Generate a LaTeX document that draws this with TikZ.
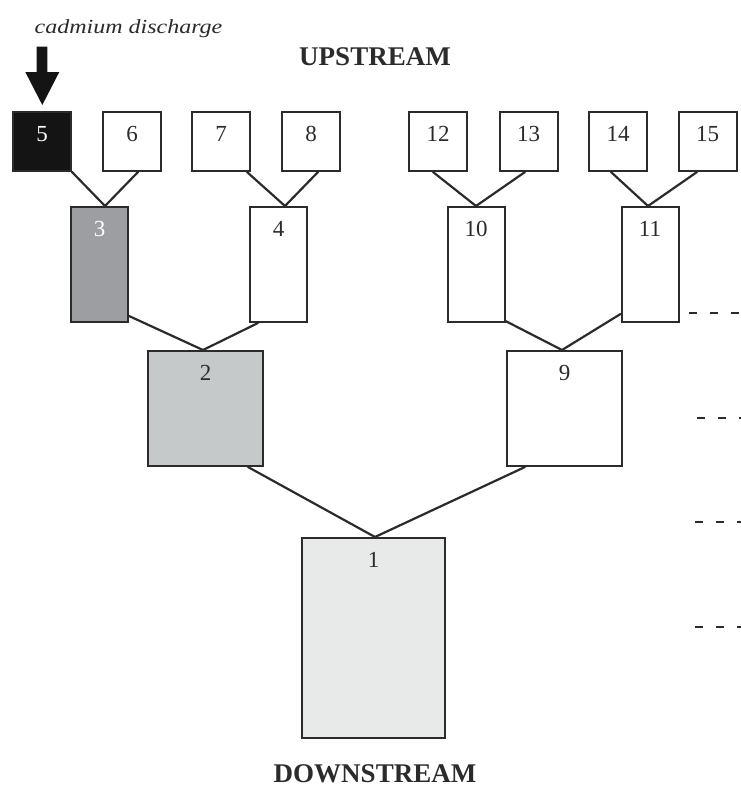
\documentclass[tikz,border=0pt]{standalone}
\usepackage{fontspec}
\setmainfont{Liberation Serif}
\usetikzlibrary{calc}
\definecolor{ink}{HTML}{2B2B2B}
\definecolor{cdblack}{HTML}{141414}
\definecolor{cdgray}{HTML}{9C9EA1}
\definecolor{cdlight}{HTML}{C6C9CA}
\definecolor{cdpale}{HTML}{E8EAEA}
\tikzset{
  reach/.style={draw=ink, line width=2pt, fill=white, inner sep=0pt, minimum width=#1},
  leaf/.style={reach=58pt, minimum height=59pt},
  mid/.style={reach=57pt, minimum height=115pt},
  big/.style={reach=115pt, minimum height=115pt},
  mouth/.style={reach=143pt, minimum height=200pt},
  num/.style={anchor=base, font=\fontsize{23}{23}\selectfont, text=ink, inner sep=0pt},
  link/.style={draw=ink, line width=2.2pt, line cap=round},
  level/.style={draw=ink, line width=1.9pt, dash pattern=on 8pt off 13pt},
  title/.style={font=\bfseries\fontsize{27}{27}\selectfont, text=ink, anchor=base, inner sep=0pt}
}
\begin{document}
\begin{tikzpicture}[x=1pt,y=-1pt]
\useasboundingbox (0,0) rectangle (741,793);

% headwater reaches
\node[leaf, fill=cdblack] (b5) at (42,141.5) {};
\node[leaf] (b6) at (132,141.5) {};
\node[leaf] (b7) at (221,141.5) {};
\node[leaf] (b8) at (311,141.5) {};
\node[leaf] (b12) at (438,141.5) {};
\node[leaf] (b13) at (528.5,141.5) {};
\node[leaf] (b14) at (618,141.5) {};
\node[leaf] (b15) at (707.5,141.5) {};

% second-order reaches
\node[mid, fill=cdgray] (b3) at (99.5,264.5) {};
\node[mid] (b4) at (278.5,264.5) {};
\node[mid] (b10) at (476,264.5) {};
\node[mid] (b11) at (650,264.5) {};

% third-order reaches
\node[big, fill=cdlight] (b2) at (205.5,408.5) {};
\node[big] (b9) at (564.5,408.5) {};

% outlet reach
\node[mouth, fill=cdpale] (b1) at (373.5,638) {};

% reach numbers
\foreach \b in {6,7,8,12,13,14,15,4,10,11,2,9,1}
  \node[num] (n\b) at ($(b\b.north)+(0,30)$) {\b};
\node[num, text=white] (n5) at ($(b5.north)+(0,30)$) {5};
\node[num, text=white] (n3) at ($(b3.north)+(0,30)$) {3};

% confluences
\draw[link] (b5.south east) -- ($(b3.north)+(5.5,0)$);
\draw[link] ($(b6.south)+(6,0)$) -- ($(b3.north)+(5.5,0)$);
\draw[link] ($(b7.south)+(26,0)$) -- ($(b4.north)+(6.5,0)$);
\draw[link] ($(b8.south)+(7,0)$) -- ($(b4.north)+(6.5,0)$);
\draw[link] ($(b12.south)+(-5,0)$) -- (b10.north);
\draw[link] ($(b13.south)+(-3.5,0)$) -- (b10.north);
\draw[link] ($(b14.south)+(-7,0)$) -- ($(b11.north)+(-2,0)$);
\draw[link] ($(b15.south)+(-10.5,0)$) -- ($(b11.north)+(-2,0)$);
\draw[link] ($(b3.south east)+(0,-7)$) -- ($(b2.north)+(-2.5,0)$);
\draw[link] ($(b4.south)+(-20.5,0)$) -- ($(b2.north)+(-2.5,0)$);
\draw[link] ($(b10.south east)+(0,-2)$) -- ($(b9.north)+(-2.5,0)$);
\draw[link] ($(b11.south west)+(0,-9)$) -- ($(b9.north)+(-2.5,0)$);
\draw[link] ($(b2.south)+(42.5,0)$) -- ($(b1.north)+(1.5,0)$);
\draw[link] ($(b9.south)+(-39.5,0)$) -- ($(b1.north)+(1.5,0)$);

% sampling levels
\coordinate (l1) at (689,313);  \coordinate (r1) at (741,313);
\coordinate (l2) at (697,418);  \coordinate (r2) at (741,418);
\coordinate (l3) at (695,522);  \coordinate (r3) at (741,522);
\coordinate (l4) at (695,627);  \coordinate (r4) at (741,627);
\foreach \i in {1,...,4} \draw[level] (l\i) -- (r\i);

% discharge point
\node[font=\itshape\fontsize{20}{20}\selectfont, text=ink, anchor=base, inner sep=0pt] (cad) at (128.5,33) {\scalebox{1.2}[1]{cadmium discharge}};
\fill[cdblack] (36.7,46.7) -- (47.3,46.7) -- (47.3,72) -- (59.3,72) -- (42.3,105) -- (25.3,72) -- (36.7,72) -- cycle;

% flow direction
\node[title] (up) at (375,65) {UPSTREAM};
\node[title] (down) at (375,782) {DOWNSTREAM};
\end{tikzpicture}
\end{document}
